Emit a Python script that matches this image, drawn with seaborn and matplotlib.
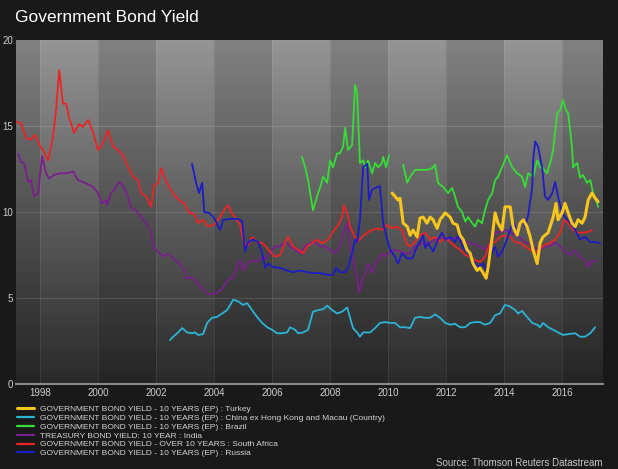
import numpy as np
import pandas as pd
import matplotlib
matplotlib.use("Agg")
import matplotlib.pyplot as plt
from matplotlib.colors import LinearSegmentedColormap
import seaborn as sns

# dati (anni decimali, rendimento %)
turkey_years = [2010.14, 2010.24, 2010.34, 2010.41, 2010.52, 2010.66, 2010.76, 2010.86, 2011.00, 2011.10,
                2011.21, 2011.34, 2011.45, 2011.55, 2011.69, 2011.79, 2011.97, 2012.14, 2012.24, 2012.38,
                2012.48, 2012.59, 2012.72, 2012.83, 2012.93, 2013.07, 2013.17, 2013.28, 2013.38, 2013.45,
                2013.59, 2013.69, 2013.79, 2013.93, 2014.03, 2014.21, 2014.31, 2014.45, 2014.55, 2014.66,
                2014.79, 2014.90, 2015.00, 2015.14, 2015.24, 2015.34, 2015.52, 2015.69, 2015.79, 2015.86,
                2016.00, 2016.10, 2016.21, 2016.34, 2016.45, 2016.55, 2016.69, 2016.79, 2016.90, 2017.03,
                2017.14, 2017.24]
turkey = [11.1, 10.9, 10.7, 10.8, 9.35, 9.15, 8.65, 8.95, 8.55, 9.65,
          9.7, 9.35, 9.7, 9.55, 9.05, 9.55, 9.95, 9.7, 9.35, 9.25,
          8.65, 8.4, 7.8, 7.6, 7.0, 6.6, 6.75, 6.45, 6.15, 6.8,
          8.55, 9.95, 9.35, 8.95, 10.3, 10.3, 9.15, 8.65, 9.35, 9.55,
          9.15, 8.55, 7.8, 7.0, 8.2, 8.55, 8.8, 9.7, 10.5, 9.55,
          9.95, 10.5, 9.95, 9.35, 9.15, 9.55, 9.35, 9.7, 10.7, 11.1,
          10.8, 10.6]

china_years = [2002.48, 2002.59, 2002.76, 2002.90, 2003.07, 2003.24, 2003.34, 2003.45, 2003.62, 2003.76,
               2003.93, 2004.10, 2004.28, 2004.45, 2004.66, 2004.83, 2005.00, 2005.14, 2005.31, 2005.48,
               2005.66, 2005.83, 2006.00, 2006.17, 2006.34, 2006.52, 2006.62, 2006.79, 2006.90, 2007.07,
               2007.24, 2007.41, 2007.59, 2007.76, 2007.90, 2008.07, 2008.24, 2008.41, 2008.59, 2008.69,
               2008.79, 2008.93, 2009.03, 2009.14, 2009.38, 2009.55, 2009.72, 2009.90, 2010.07, 2010.24,
               2010.41, 2010.59, 2010.76, 2010.93, 2011.10, 2011.28, 2011.45, 2011.62, 2011.79, 2011.97,
               2012.14, 2012.31, 2012.48, 2012.66, 2012.83, 2013.00, 2013.17, 2013.34, 2013.52, 2013.69,
               2013.86, 2014.03, 2014.21, 2014.38, 2014.48, 2014.62, 2014.79, 2014.97, 2015.14, 2015.24,
               2015.34, 2015.52, 2015.69, 2015.86, 2016.03, 2016.21, 2016.45, 2016.62, 2016.79, 2016.97,
               2017.14]
china = [2.55, 2.75, 3.0, 3.25, 3.0, 2.95, 3.0, 2.85, 2.9, 3.55,
         3.85, 3.9, 4.1, 4.3, 4.9, 4.8, 4.6, 4.7, 4.3, 3.9,
         3.55, 3.3, 3.15, 2.95, 2.95, 3.0, 3.3, 3.15, 2.95, 3.0,
         3.15, 4.2, 4.3, 4.35, 4.55, 4.3, 4.1, 4.2, 4.45, 3.85,
         3.25, 3.0, 2.75, 3.0, 3.0, 3.25, 3.55, 3.6, 3.55, 3.55,
         3.3, 3.3, 3.25, 3.85, 3.9, 3.85, 3.85, 4.05, 3.85, 3.55,
         3.45, 3.5, 3.3, 3.3, 3.55, 3.6, 3.6, 3.45, 3.55, 4.0,
         4.1, 4.6, 4.5, 4.3, 4.1, 4.25, 3.9, 3.55, 3.45, 3.3,
         3.55, 3.3, 3.15, 3.0, 2.85, 2.9, 2.95, 2.75, 2.75, 2.95,
         3.3]

# Brasile: due tratti (buco nel 2010)
brazil_years_a = [2007.03, 2007.14, 2007.24, 2007.41, 2007.55, 2007.66, 2007.76, 2007.90, 2008.00, 2008.10,
                  2008.24, 2008.34, 2008.45, 2008.52, 2008.62, 2008.76, 2008.86, 2008.93, 2009.03, 2009.14,
                  2009.21, 2009.31, 2009.45, 2009.55, 2009.66, 2009.79, 2009.83, 2009.93, 2010.03]
brazil_a = [13.2, 12.6, 11.85, 10.1, 10.9, 11.45, 12.05, 11.7, 13.0, 12.6,
            13.4, 13.4, 13.8, 14.9, 13.6, 13.9, 17.4, 16.9, 12.85, 13.0,
            12.6, 13.0, 12.25, 12.85, 12.6, 12.85, 13.2, 12.6, 13.3]
brazil_years_b = [2010.52, 2010.66, 2010.76, 2010.93, 2011.10, 2011.34, 2011.52, 2011.62, 2011.72, 2011.90,
                  2012.07, 2012.21, 2012.31, 2012.41, 2012.55, 2012.66, 2012.76, 2012.90, 2013.00, 2013.10,
                  2013.24, 2013.34, 2013.45, 2013.59, 2013.69, 2013.79, 2013.93, 2014.10, 2014.28, 2014.45,
                  2014.62, 2014.72, 2014.83, 2015.00, 2015.14, 2015.24, 2015.34, 2015.48, 2015.59, 2015.69,
                  2015.83, 2015.93, 2016.03, 2016.14, 2016.21, 2016.34, 2016.38, 2016.52, 2016.62, 2016.72,
                  2016.86, 2016.97, 2017.07, 2017.21, 2017.24]
brazil_b = [12.75, 11.7, 12.05, 12.45, 12.45, 12.45, 12.55, 12.75, 11.7, 11.45,
            11.1, 11.4, 10.9, 10.3, 10.0, 9.45, 9.7, 9.35, 9.15, 9.55,
            9.35, 10.1, 10.7, 11.1, 11.85, 12.05, 12.6, 13.3, 12.6, 12.25,
            12.05, 11.45, 12.25, 12.05, 13.0, 12.6, 12.55, 12.25, 12.85, 13.6,
            15.75, 15.9, 16.5, 15.9, 15.75, 13.8, 12.6, 12.85, 12.0, 12.15,
            11.7, 11.85, 11.1, 10.5, 10.3]

india_years = [1997.24, 1997.34, 1997.45, 1997.59, 1997.69, 1997.79, 1997.93, 1998.07, 1998.21, 1998.31,
               1998.48, 1998.66, 1998.90, 1999.14, 1999.31, 1999.48, 1999.66, 1999.83, 2000.00, 2000.14,
               2000.28, 2000.31, 2000.45, 2000.62, 2000.72, 2000.86, 2001.03, 2001.14, 2001.31, 2001.48,
               2001.66, 2001.83, 2001.90, 2002.07, 2002.24, 2002.41, 2002.59, 2002.76, 2002.93, 2003.03,
               2003.21, 2003.38, 2003.55, 2003.72, 2003.90, 2004.10, 2004.31, 2004.48, 2004.66, 2004.79,
               2004.90, 2005.00, 2005.14, 2005.31, 2005.48, 2005.66, 2005.76, 2005.93, 2006.10, 2006.28,
               2006.45, 2006.62, 2006.79, 2006.97, 2007.14, 2007.31, 2007.48, 2007.66, 2007.83, 2008.00,
               2008.17, 2008.34, 2008.45, 2008.59, 2008.69, 2008.79, 2008.93, 2009.00, 2009.10, 2009.21,
               2009.31, 2009.45, 2009.55, 2009.66, 2009.79, 2009.90, 2010.07, 2010.24, 2010.41, 2010.59,
               2010.76, 2010.93, 2011.10, 2011.28, 2011.45, 2011.62, 2011.79, 2011.97, 2012.14, 2012.31,
               2012.48, 2012.66, 2012.83, 2013.00, 2013.17, 2013.34, 2013.52, 2013.69, 2013.86, 2014.03,
               2014.21, 2014.38, 2014.55, 2014.72, 2014.90, 2015.07, 2015.24, 2015.41, 2015.59, 2015.76,
               2015.93, 2016.10, 2016.28, 2016.45, 2016.62, 2016.79, 2016.90, 2017.03, 2017.14]
india = [13.4, 12.9, 12.85, 11.75, 11.85, 10.9, 11.1, 13.25, 12.25, 11.95,
         12.15, 12.25, 12.25, 12.35, 11.85, 11.75, 11.6, 11.45, 11.1, 10.5,
         10.7, 10.4, 11.1, 11.45, 11.75, 11.55, 10.9, 10.25, 10.1, 9.7,
         9.35, 8.8, 8.0, 7.7, 7.4, 7.6, 7.3, 7.1, 6.75, 6.15,
         6.2, 5.95, 5.65, 5.3, 5.2, 5.3, 5.6, 6.05, 6.2, 6.8,
         7.2, 6.6, 7.0, 7.2, 7.1, 7.4, 7.3, 7.6, 8.0, 8.0,
         8.25, 8.0, 7.8, 7.6, 8.0, 8.2, 8.25, 8.0, 8.0, 7.8,
         7.6, 8.0, 8.8, 9.35, 8.0, 7.2, 6.2, 5.3, 6.05, 6.45,
         7.0, 6.45, 7.0, 7.2, 7.6, 7.4, 7.7, 7.8, 7.7, 7.6,
         7.6, 8.0, 8.1, 8.25, 8.2, 8.4, 8.5, 8.4, 8.4, 8.5,
         8.4, 8.25, 8.2, 8.1, 8.0, 7.8, 8.25, 8.8, 8.85, 8.95,
         8.85, 8.65, 8.5, 8.25, 8.1, 7.9, 7.8, 8.0, 8.0, 8.25,
         8.0, 7.7, 7.5, 7.8, 7.4, 7.2, 6.8, 7.2, 7.1]

safrica_years = [1997.17, 1997.34, 1997.52, 1997.69, 1997.83, 1997.97, 1998.10, 1998.28, 1998.45, 1998.55,
                 1998.66, 1998.79, 1998.90, 1999.00, 1999.17, 1999.34, 1999.48, 1999.66, 1999.83, 2000.00,
                 2000.17, 2000.34, 2000.52, 2000.69, 2000.86, 2001.03, 2001.21, 2001.38, 2001.48, 2001.66,
                 2001.83, 2001.93, 2002.07, 2002.17, 2002.28, 2002.45, 2002.62, 2002.79, 2002.97, 2003.14,
                 2003.31, 2003.45, 2003.62, 2003.79, 2003.97, 2004.03, 2004.21, 2004.38, 2004.48, 2004.62,
                 2004.72, 2004.90, 2005.00, 2005.14, 2005.31, 2005.48, 2005.66, 2005.83, 2005.93, 2006.10,
                 2006.28, 2006.45, 2006.55, 2006.72, 2006.90, 2007.07, 2007.21, 2007.38, 2007.55, 2007.66,
                 2007.76, 2007.93, 2008.10, 2008.28, 2008.41, 2008.48, 2008.59, 2008.69, 2008.79, 2008.93,
                 2009.10, 2009.28, 2009.45, 2009.62, 2009.79, 2009.97, 2010.14, 2010.31, 2010.48, 2010.66,
                 2010.76, 2010.93, 2011.10, 2011.28, 2011.45, 2011.62, 2011.79, 2011.97, 2012.14, 2012.31,
                 2012.48, 2012.66, 2012.83, 2013.00, 2013.17, 2013.34, 2013.52, 2013.69, 2013.86, 2014.03,
                 2014.21, 2014.38, 2014.55, 2014.72, 2014.90, 2015.07, 2015.24, 2015.41, 2015.59, 2015.76,
                 2015.93, 2016.07, 2016.21, 2016.38, 2016.55, 2016.72, 2016.90, 2017.03]
safrica = [15.25, 15.17, 14.3, 14.2, 14.5, 13.9, 13.6, 13.0, 14.4, 15.9,
           18.25, 16.3, 16.3, 15.5, 14.6, 15.1, 14.95, 15.35, 14.6, 13.6,
           14.0, 14.75, 13.8, 13.6, 13.3, 12.6, 12.05, 11.85, 11.1, 10.9,
           10.3, 11.55, 11.7, 12.55, 12.05, 11.45, 11.0, 10.7, 10.5, 9.95,
           9.9, 9.35, 9.55, 9.15, 9.25, 9.35, 9.7, 10.2, 10.4, 9.9,
           9.7, 9.25, 8.4, 8.0, 8.55, 8.25, 8.2, 7.9, 7.7, 7.4,
           7.5, 8.25, 8.55, 8.0, 7.8, 7.6, 8.0, 8.2, 8.4, 8.25,
           8.2, 8.4, 8.85, 9.25, 9.7, 10.4, 9.9, 9.15, 8.8, 8.25,
           8.55, 8.8, 8.95, 9.05, 8.95, 9.25, 9.05, 9.15, 8.95, 8.1,
           8.0, 8.25, 8.65, 8.8, 8.4, 8.55, 8.25, 8.5, 8.25, 8.0,
           7.8, 7.5, 7.4, 7.2, 7.1, 7.4, 8.2, 8.25, 8.55, 8.65,
           8.55, 8.25, 8.2, 8.0, 7.8, 7.6, 7.9, 8.1, 8.2, 8.4,
           8.8, 9.55, 9.35, 8.95, 8.8, 8.8, 8.85, 8.95]

russia_years = [2003.24, 2003.38, 2003.48, 2003.59, 2003.66, 2003.83, 2004.00, 2004.21, 2004.31, 2004.55,
                2004.83, 2004.97, 2005.07, 2005.17, 2005.34, 2005.52, 2005.66, 2005.76, 2005.86, 2006.03,
                2006.28, 2006.52, 2006.72, 2006.97, 2007.21, 2007.41, 2007.66, 2007.90, 2008.10, 2008.21,
                2008.34, 2008.52, 2008.62, 2008.76, 2008.86, 2008.93, 2009.03, 2009.14, 2009.28, 2009.34,
                2009.45, 2009.62, 2009.72, 2009.83, 2009.97, 2010.07, 2010.24, 2010.34, 2010.48, 2010.66,
                2010.83, 2011.00, 2011.10, 2011.21, 2011.28, 2011.38, 2011.55, 2011.72, 2011.86, 2011.97,
                2012.14, 2012.31, 2012.41, 2012.59, 2012.76, 2012.93, 2013.10, 2013.28, 2013.41, 2013.52,
                2013.69, 2013.79, 2013.93, 2014.10, 2014.21, 2014.31, 2014.45, 2014.62, 2014.72, 2014.83,
                2014.97, 2015.00, 2015.07, 2015.17, 2015.31, 2015.41, 2015.52, 2015.66, 2015.76, 2015.86,
                2016.00, 2016.10, 2016.28, 2016.45, 2016.62, 2016.79, 2016.97, 2017.14, 2017.31]
russia = [12.8, 11.7, 11.1, 11.7, 10.0, 9.95, 9.65, 8.95, 9.55, 9.6,
          9.6, 9.45, 7.7, 8.25, 8.4, 8.25, 7.6, 6.75, 7.0, 6.8,
          6.75, 6.6, 6.5, 6.6, 6.5, 6.45, 6.45, 6.35, 6.35, 6.75,
          6.5, 6.5, 6.75, 7.6, 8.4, 8.25, 9.55, 12.6, 12.8, 10.7,
          11.3, 11.45, 11.5, 9.35, 8.4, 7.8, 7.4, 7.0, 7.6, 7.3,
          7.3, 8.0, 8.25, 8.65, 7.9, 8.2, 7.7, 8.4, 8.8, 8.4,
          8.55, 8.25, 8.65, 7.9, 7.6, 7.2, 6.8, 7.0, 6.6, 7.4,
          8.0, 7.4, 7.7, 8.4, 8.95, 9.45, 8.8, 9.55, 9.15, 9.8,
          11.45, 13.0, 14.1, 13.8, 12.6, 10.9, 10.7, 11.1, 11.75, 10.9,
          9.95, 9.7, 9.35, 8.95, 8.4, 8.55, 8.25, 8.25, 8.2]

etichette = [
    "GOVERNMENT BOND YIELD - 10 YEARS (EP) : Turkey",
    "GOVERNMENT BOND YIELD - 10 YEARS (EP) : China ex Hong Kong and Macau (Country)",
    "GOVERNMENT BOND YIELD - 10 YEARS (EP) : Brazil",
    "TREASURY BOND YIELD: 10 YEAR : India",
    "GOVERNMENT BOND YIELD - OVER 10 YEARS : South Africa",
    "GOVERNMENT BOND YIELD - 10 YEARS (EP) : Russia",
]
colori = ["#f7c51c", "#2bb4d6", "#35dd35", "#7b1f8e", "#ec2424", "#1c1cc8"]
anni_tick = [1998, 2000, 2002, 2004, 2006, 2008, 2010, 2012, 2014, 2016]

sns.set_style("dark")
plt.rcParams['font.family'] = ['Liberation Sans', 'DejaVu Sans']

sfondo = "#191919"
fig = plt.figure(figsize=(6.18, 4.69), dpi=100, facecolor=sfondo)
ax = fig.add_axes([16 / 618, 85 / 469, 587 / 618, 344 / 469])
xmin, xmax = 1997.17, 2017.41

# sfondo sfumato con bande alternate di due anni
cmap = LinearSegmentedColormap.from_list("grad", ["#2a2a2a", "#5e5e5e", "#959595"])
grad = np.linspace(0, 1, 256).reshape(-1, 1)
ax.imshow(grad, extent=[xmin, xmax, 0, 20], origin="lower", aspect="auto", cmap=cmap, zorder=0)
for inizio in range(1996, 2018, 4):
    ax.axvspan(inizio, inizio + 2, color="black", alpha=0.13, lw=0, zorder=0.5)
for a in anni_tick:
    ax.axvline(a, color="white", alpha=0.08, lw=0.8, zorder=0.6)
for v in [5, 10, 15]:
    ax.axhline(v, color="white", alpha=0.13, lw=0.8, zorder=0.6)

lw = 1.3
serie = [
    (china_years, china, 1, lw),
    (india_years, india, 3, lw),
    (safrica_years, safrica, 4, lw),
    (brazil_years_a, brazil_a, 2, lw),
    (brazil_years_b, brazil_b, 2, lw),
    (russia_years, russia, 5, lw),
    (turkey_years, turkey, 0, 2.2),
]
for xs, ys, i, w in serie:
    sns.lineplot(x=xs, y=ys, color=colori[i], lw=w, ax=ax, zorder=2, legend=False)

ax.set_xlim(xmin, xmax)
ax.set_ylim(0, 20)
ax.set_facecolor("#444444")
ax.set_xticks(anni_tick)
ax.set_yticks([0, 5, 10, 15, 20])
ax.tick_params(colors="#cfcfcf", labelsize=7, length=0, pad=3)
ax.tick_params(axis="y", pad=2)
ax.grid(False)
for lato in ["top", "right", "left"]:
    ax.spines[lato].set_visible(False)
ax.spines["bottom"].set_color("#8a8a8a")
ax.spines["bottom"].set_linewidth(1.5)
ax.set_xlabel("")
ax.set_ylabel("")

fig.text(15 / 618, 1 - 18 / 469, "Government Bond Yield", color="white", fontsize=12.5, va="center", ha="left")

maniglie = [plt.Line2D([], [], color=c, lw=2.2 if i == 0 else 1.6) for i, c in enumerate(colori)]
leg = fig.legend(maniglie, etichette, loc="upper left", bbox_to_anchor=(17 / 618, 1 - 405 / 469),
                 frameon=False, fontsize=6.05, handlelength=2.0, handletextpad=0.75,
                 labelspacing=0.12, borderpad=0, borderaxespad=0)
for t in leg.get_texts():
    t.set_color("#d4d4d4")

fig.text(603 / 618, 1 / 469, "Source: Thomson Reuters Datastream", color="#c8c8c8", fontsize=7,
         ha="right", va="bottom")

fig.savefig("out.png", dpi=100, facecolor=sfondo)
